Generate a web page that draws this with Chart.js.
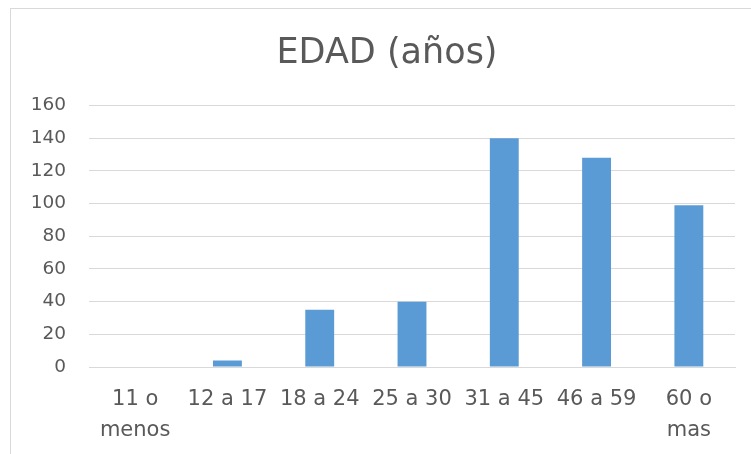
<!DOCTYPE html>
<html>
<head>
<meta charset="utf-8">
<script src="https://cdn.jsdelivr.net/npm/chart.js@4/dist/chart.umd.min.js"></script>
<style>
html,body{margin:0;padding:0;background:#fff;}
#wrap{position:relative;width:751px;height:454px;}
#frame{position:absolute;left:10px;top:8px;width:800px;height:500px;border-left:1px solid #D9D9D9;border-top:1px solid #D9D9D9;}
canvas{position:absolute;left:0;top:0;}
</style>
</head>
<body>
<div id="wrap">
<div id="frame"></div>
<canvas id="c" width="751" height="454"></canvas>
</div>
<script>
const categories = [["11 o","menos"], "12 a 17", "18 a 24", "25 a 30", "31 a 45", "46 a 59", ["60 o","mas"]];
const values = [0, 4, 35, 40, 140, 128, 99];
const yTicks = [0, 20, 40, 60, 80, 100, 120, 140, 160];
const titleText = "EDAD (años)";

const FONT = "'Century Gothic', 'DejaVu Sans', sans-serif";
const TXT = "#595959";

const shiftTitle = {
  id: 'shiftTitle',
  afterLayout(chart) {
    const t = chart.titleBlock;
    if (t) { t.left += 19.5; t.right += 19.5; }
  }
};

new Chart(document.getElementById('c'), {
  type: 'bar',
  data: {
    labels: categories,
    datasets: [{
      data: values,
      backgroundColor: '#5B9BD5',
      borderWidth: 0,
      categoryPercentage: 1,
      barPercentage: 0.313
    }]
  },
  plugins: [shiftTitle],
  options: {
    responsive: false,
    animation: false,
    devicePixelRatio: 1,
    layout: { padding: { left: 0, right: 16, top: 0, bottom: 0 } },
    plugins: {
      legend: { display: false },
      tooltip: { enabled: false },
      title: {
        display: true,
        text: titleText,
        color: TXT,
        font: { family: FONT, size: 35, weight: 'normal', lineHeight: 1.2 },
        padding: { top: 33, bottom: 30.5 }
      }
    },
    scales: {
      x: {
        grid: { display: false, drawTicks: false },
        border: { display: true, color: '#D9D9D9', width: 1 },
        ticks: {
          color: TXT,
          maxRotation: 0,
          autoSkip: false,
          padding: 17,
          font: { family: FONT, size: 21, lineHeight: 31 / 21 }
        },
        afterFit: (s) => { s.height = 87; }
      },
      y: {
        min: 0,
        max: 160,
        afterBuildTicks: (s) => { s.ticks = yTicks.map(v => ({ value: v })); },
        grid: { color: '#D9D9D9', lineWidth: 1, drawTicks: false },
        border: { display: false },
        ticks: {
          color: TXT,
          padding: 23,
          font: { family: FONT, size: 18.5 }
        },
        afterFit: (s) => { s.width = 89; }
      }
    }
  }
});
</script>
</body>
</html>
